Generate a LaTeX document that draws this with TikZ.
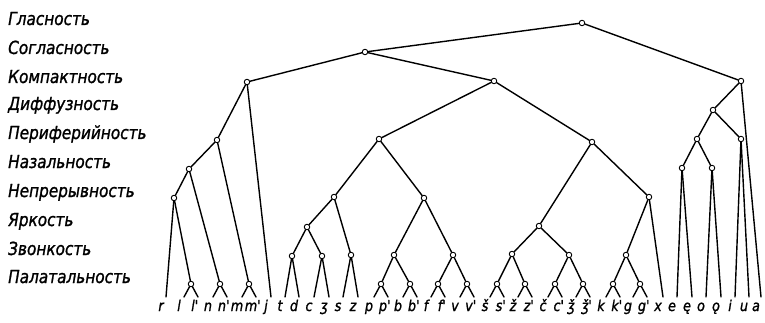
\documentclass[tikz,border=0pt]{standalone}
\usepackage{fontspec}
\setmainfont{DejaVu Sans}[FakeStretch=0.85]
\newfontfamily\sketchfont{DejaVu Sans}[FakeStretch=0.85, FakeBold=1.2]
\usepackage{tikz}
\usetikzlibrary{positioning}
\tikzset{
  knot/.style={circle, draw, fill=white, line width=0.9pt, inner sep=0pt, minimum size=5.5pt},
  feat/.style={anchor=base west, inner sep=0pt, font=\sketchfont\fontsize{18}{20}\selectfont\itshape},
  leaf/.style={anchor=base, inner sep=0pt, font=\sketchfont\fontsize{15}{17}\selectfont\itshape},
  edge/.style={line width=1.4pt, line cap=round},
}

\begin{document}
\begin{tikzpicture}[x=1pt, y=-1pt]
\useasboundingbox (0,0) rectangle (765,323);
% feature names
\foreach \y/\t [count=\i] in {25/Гласность, 54/Согласность, 83/Компактность, 110/Диффузность,
    139/Периферийность, 168/Назальность, 197/Непрерывность, 226/Яркость, 255/Звонкость,
    283/Палатальность}
  \node[feat] (f\i) at (8,\y) {\t};
% branching points
\node[knot] (voc) at (582,23) {};
\node[knot] (cons) at (365,52) {};
\node[knot] (kL) at (247,82) {};
\node[knot] (kR) at (494,81) {};
\node[knot] (kV) at (741,81) {};
\node[knot] (dV) at (713,110) {};
\node[knot] (pL) at (217,140) {};
\node[knot] (pM) at (379,139) {};
\node[knot] (pR) at (592,142) {};
\node[knot] (pV1) at (697,139) {};
\node[knot] (pV2) at (741,139) {};
\node[knot] (nL) at (189,169) {};
\node[knot] (nV1) at (682,168) {};
\node[knot] (nV2) at (712,168) {};
\node[knot] (cL) at (174,198) {};
\node[knot] (cM1) at (334,197) {};
\node[knot] (cM2) at (424,198) {};
\node[knot] (cR) at (649,197) {};
\node[knot] (yM) at (307,227) {};
\node[knot] (yR) at (539,226) {};
\node[knot] (zTD) at (292,256) {};
\node[knot] (zCZ) at (322,256) {};
\node[knot] (zSZ) at (351,255) {};
\node[knot] (zPB) at (394,255) {};
\node[knot] (zFV) at (453,255) {};
\node[knot] (zSh) at (512,254) {};
\node[knot] (zCh) at (569,255) {};
\node[knot] (zKG) at (626,255) {};
\foreach \n/\x in {pLl/191, pNn/220, pMm/249, pPp/381, pBb/410, pFf/438, pVv/467,
    pSs/497, pZz/525, pCc/555, pJj/583, pKk/613, pGg/640}
  \node[knot] (\n) at (\x,284) {};
% phonemes
\foreach \x/\t [count=\i] in {166/r, 184/l, 198/l\rlap{'}, 213/n, 227/n\rlap{'}, 242/m,
    256/m\rlap{'}, 271/j, 285/t, 299/d, 314/c, 329/ʒ, 343/s, 358/z, 374/p, 388/p\rlap{'},
    403/b, 417/b\rlap{'}, 431/f, 445/f\rlap{'}, 460/v, 474/v\rlap{'}, 490/š, 504/s\rlap{'},
    518/ž, 532/z\rlap{'}, 548/č, 562/c\rlap{'}, 576/ǯ, 590/ǯ\rlap{'}, 606/k, 620/k\rlap{'},
    633/g, 647/g\rlap{'}, 663/x, 677/e, 692/ę, 706/o, 721/ǫ, 735/i, 749/u, 761/a} {
  \coordinate (lf\i) at (\x,297);
  \node[leaf] (lb\i) at (\x-5,311) {\t};
}
\foreach \a/\b in {voc/cons, voc/kV, cons/kL, cons/kR,
    kL/pL, kL/lf8, pL/nL, pL/pMm, nL/cL, nL/pNn, cL/lf1, cL/pLl,
    pLl/lf2, pLl/lf3, pNn/lf4, pNn/lf5, pMm/lf6, pMm/lf7,
    kR/pM, kR/pR, pM/cM1, pM/cM2, cM1/yM, cM1/zSZ, yM/zTD, yM/zCZ,
    zTD/lf9, zTD/lf10, zCZ/lf11, zCZ/lf12, zSZ/lf13, zSZ/lf14,
    cM2/zPB, cM2/zFV, zPB/pPp, zPB/pBb, zFV/pFf, zFV/pVv,
    pPp/lf15, pPp/lf16, pBb/lf17, pBb/lf18, pFf/lf19, pFf/lf20, pVv/lf21, pVv/lf22,
    pR/yR, pR/cR, yR/zSh, yR/zCh, zSh/pSs, zSh/pZz, zCh/pCc, zCh/pJj,
    pSs/lf23, pSs/lf24, pZz/lf25, pZz/lf26, pCc/lf27, pCc/lf28, pJj/lf29, pJj/lf30,
    cR/zKG, cR/lf35, zKG/pKk, zKG/pGg, pKk/lf31, pKk/lf32, pGg/lf33, pGg/lf34,
    kV/dV, kV/lf42, dV/pV1, dV/pV2, pV1/nV1, pV1/nV2,
    nV1/lf36, nV1/lf37, nV2/lf38, nV2/lf39, pV2/lf40, pV2/lf41}
  \draw[edge] (\a) -- (\b);
\end{tikzpicture}
\end{document}
